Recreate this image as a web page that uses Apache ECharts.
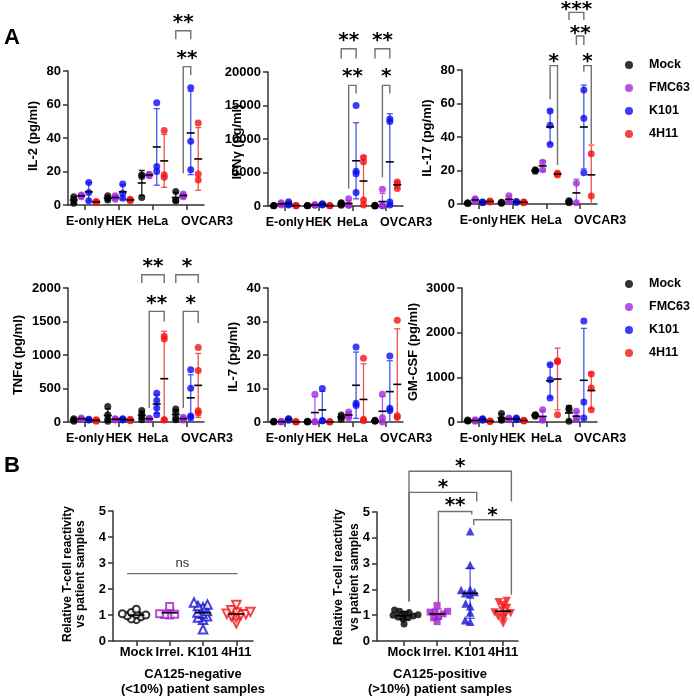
<!DOCTYPE html>
<html><head><meta charset="utf-8">
<script src="https://cdn.jsdelivr.net/npm/echarts@6/dist/echarts.min.js"></script>
<style>html,body{margin:0;padding:0;background:#fff}#c{width:694px;height:696px}</style>
</head><body><div id="c"></div><script>
// ---------- DATA ----------
const cats = ['E-only', 'HEK', 'HeLa', 'OVCAR3'];
const groups = ['Mock', 'FMC63', 'K101', '4H11'];
// replicate values per category [E-only, HEK, HeLa, OVCAR3]
const il2Mock  = [[1, 3, 5], [3, 4, 5.5], [4.5, 17, 18], [2.5, 3, 8]];
const il2FMC63 = [[5, 5.5, 6], [3.5, 4.5, 5.5], [17.5, 18, 18.3], [5, 5.5, 6.5]];
const il2K101  = [[2.5, 7.5, 13.5], [4, 7, 12.5], [20, 23, 61], [21, 38, 70]];
const il2H11   = [[1.5, 2, 2], [2.5, 3, 3.5], [16.5, 18, 44.5], [15, 18.5, 49]];

const ifnMock  = [[20, 50, 80], [20, 40, 60], [100, 250, 400, 500], [0, 50, 80, 100]];
const ifnFMC63 = [[150, 300, 500], [100, 150, 200], [100, 150, 150, 1100], [50, 50, 50, 2500]];
const ifnK101  = [[150, 300, 650], [150, 250, 350], [2000, 4800, 5200, 15000], [150, 600, 12600, 13000]];
const ifnH11   = [[30, 50, 80], [30, 50, 80], [150, 900, 6600, 7250], [2600, 3300, 3600]];

const il17Mock  = [[0.3, 0.5, 0.8], [0.5, 0.8, 1], [19.5, 20, 20.5], [0.8, 1.5, 2]];
const il17FMC63 = [[1.5, 2.5, 3.2], [1.4, 2, 5], [20.5, 25], [0.8, 12.4]];
const il17K101  = [[0.8, 1, 1.2], [1, 1.2, 1.5], [35.5, 47, 55.5], [18.7, 51.2, 68]];
const il17H11   = [[1.2, 1.5, 1.8], [0.8, 1, 1.2], [17.3, 18, 18.3], [4.8, 30]];

const tnfMock  = [[10, 30, 50], [10, 40, 110, 230], [35, 75, 120, 170], [35, 60, 150, 195]];
const tnfFMC63 = [[40, 50, 60], [30, 40, 50], [40, 50, 55], [30, 50, 70]];
const tnfK101  = [[30, 35, 40], [30, 40, 50], [110, 210, 320, 430], [70, 90, 505, 780]];
const tnfH11   = [[10, 25, 35], [20, 30, 40], [30, 35, 1240, 1280], [134, 169, 770, 1113]];

const il7Mock  = [[0, 0.1, 0.2], [0, 0.1, 0.2], [0.8, 1.5, 2.1], [0.2, 0.4, 0.5]];
const il7FMC63 = [[0, 0.1, 0.2], [0.05, 0.1, 8.3], [1.3, 2, 3], [0, 1.3, 8.3]];
const il7K101  = [[0.5, 0.9, 1], [0.4, 0.4, 10], [4.9, 5.6, 22.4], [3.4, 4.1, 19.7]];
const il7H11   = [[0, 0.1, 0.1], [0, 0.05, 0.1], [0.4, 0.8, 19], [1.4, 1.9, 30.4]];

const gmMock  = [[20, 30, 45], [40, 60, 190], [130, 150, 165], [15, 276, 313]];
const gmFMC63 = [[15, 35, 50], [50, 70, 90], [40, 60, 275], [60, 90, 240]];
const gmK101  = [[40, 60, 75], [50, 70, 90], [537, 948, 1284], [90, 450, 2260]];
const gmH11   = [[10, 15, 20], [25, 35, 40], [165, 1350, 1370], [276, 761, 1075]];

// significance brackets: [category, group1, group2, bracket level, leg1 end, leg2 end, label level, label]
const il2Brackets = [[3, 0, 2, 104, 99, 99, 111, '**'], [3, 1, 2, 82.6, 19, 77.6, 89.6, '**']];
const ifnBrackets = [[2, 0, 2, 23480, 22000, 22000, 25200, '**'], [2, 1, 2, 18000, 2600, 16800, 19850, '**'],
                     [3, 0, 2, 23480, 22000, 22000, 25200, '**'], [3, 1, 2, 18000, 4300, 16800, 19850, '*']];
const il17Brackets = [[2, 2, 3, 82.6, 62.5, 23.3, 87, '*'], [3, 2, 3, 82.6, 79, 35.8, 87, '*'],
                      [3, 1, 2, 100.3, 94.9, 94.9, 104, '**'], [3, 0, 2, 114.4, 109.9, 109.9, 118.4, '***']];
const tnfBrackets = [[2, 0, 3, 2198, 2075, 2075, 2373, '**'], [2, 1, 3, 1651, 209, 1500, 1825, '**'],
                     [3, 0, 3, 2198, 2075, 2075, 2373, '*'], [3, 1, 3, 1651, 209, 1478, 1825, '*']];

// Panel B
const bGroups = ['Mock', 'Irrel.', 'K101', '4H11'];
const negMock  = [0.82, 0.85, 0.93, 0.97, 1.0, 1.02, 1.05, 1.1, 1.22];
const negIrrel = [1.0, 1.02, 1.03, 1.05, 1.33];
const negK101  = [0.45, 0.82, 0.9, 0.95, 1.05, 1.1, 1.15, 1.3, 1.35, 1.4, 1.48];
const negH11   = [0.68, 0.9, 0.95, 1.0, 1.03, 1.05, 1.1, 1.12, 1.18, 1.38];
const posMock  = [0.66, 0.85, 0.9, 0.93, 0.97, 1.0, 1.02, 1.05, 1.1, 1.15, 1.2];
const posIrrel = [0.75, 0.9, 0.95, 1.05, 1.1, 1.12, 1.15, 1.38];
const posK101  = [0.75, 0.8, 1.1, 1.35, 1.45, 1.8, 1.85, 1.9, 1.98, 2.0, 2.95, 4.25];
const posH11   = [0.68, 0.88, 0.95, 1.05, 1.08, 1.1, 1.2, 1.28, 1.4, 1.5, 1.55];
// [x1, x2, bracket level, leg1 end, leg2 end, label level, label]
const negBrackets = [[-0.28, 3.04, 2.59, null, null, 2.98, 'ns']];
const posBrackets = [[0.15, 3.25, 6.58, 1.53, 5.41, 6.92, '*'], [0.15, 2.2, 5.76, 1.53, 5.41, 6.1, '*'],
                     [1.04, 2.05, 5.02, 1.49, 4.9, 5.38, '**'], [2.11, 3.25, 4.7, 4.5, 1.79, 5.0, '*']];

// ---------- STYLE / LAYOUT ----------
const FONT = '"Liberation Sans", Arial, Helvetica, sans-serif';
const COLORS = ['#000000', '#A22BE0', '#0B0BF2', '#F21414'];
const BAR_COLORS = ['#222222', '#B45CE6', '#4A55EE', '#F05050'];
const B_COLORS = ['#000000', '#A020C8', '#1414D2', '#F01414'];
const OFF = [-0.33, -0.11, 0.11, 0.33];
const AXC = '#333333';
const STAR_FONT = 'bold 20px "DejaVu Sans"';

function stats(a) {
  const m = a.reduce((s, v) => s + v, 0) / a.length;
  const sd = a.length > 1 ? Math.sqrt(a.reduce((s, v) => s + (v - m) * (v - m), 0) / (a.length - 1)) : 0;
  return [m, sd];
}
function barRender(cap, colors) {
  return function (params, api) {
    const x = api.value(0), lo = api.value(2), hi = api.value(3), g = api.value(4);
    const pT = api.coord([x, hi]), pB = api.coord([x, Math.max(lo, 0)]);
    const st = { stroke: colors[g], lineWidth: 1.3 };
    const ch = [{ type: 'line', shape: { x1: pT[0], y1: pT[1], x2: pB[0], y2: pB[1] }, style: st },
                { type: 'line', shape: { x1: pT[0] - cap, y1: pT[1], x2: pT[0] + cap, y2: pT[1] }, style: st }];
    if (lo > 0) ch.push({ type: 'line', shape: { x1: pB[0] - cap, y1: pB[1], x2: pB[0] + cap, y2: pB[1] }, style: st });
    return { type: 'group', children: ch };
  };
}
function meanRender(w) {
  return function (params, api) {
    const p = api.coord([api.value(0), api.value(1)]);
    return { type: 'line', shape: { x1: p[0] - w, y1: p[1], x2: p[0] + w, y2: p[1] }, style: { stroke: '#000', lineWidth: 1.6 } };
  };
}
function bracketShape(api, x1, x2, y, l1, l2, ty, label) {
  const pa = api.coord([x1, y]), pb = api.coord([x2, y]);
  const pts = (l1 === null) ? [pa, pb] : [api.coord([x1, l1]), pa, pb, api.coord([x2, l2])];
  const pt = api.coord([(x1 + x2) / 2, ty]);
  const isNs = label === 'ns';
  return { type: 'group', children: [
    { type: 'polyline', shape: { points: pts }, style: { stroke: '#707070', lineWidth: 1.4, fill: null } },
    { type: 'text', x: pt[0], y: pt[1] + (isNs ? 0 : 4),
      style: { text: label, fill: isNs ? '#333' : '#000', font: isNs ? '13px ' + FONT : STAR_FONT, align: 'center', verticalAlign: 'middle' } }
  ] };
}

const panelsA = [
  { name: 'IL-2 (pg/ml)', left: 68, top: 71, width: 136, height: 134, max: 80, step: 20, sets: [il2Mock, il2FMC63, il2K101, il2H11], br: il2Brackets, nx: 33, ny: 136 },
  { name: 'IFNγ (pg/ml)', left: 268, top: 72, width: 135, height: 134, max: 20000, step: 5000, sets: [ifnMock, ifnFMC63, ifnK101, ifnH11], br: ifnBrackets, nx: 237, ny: 142 },
  { name: 'IL-17 (pg/ml)', left: 462, top: 70, width: 135, height: 134, max: 80, step: 20, sets: [il17Mock, il17FMC63, il17K101, il17H11], br: il17Brackets, nx: 427, ny: 138 },
  { name: 'TNFα (pg/ml)', left: 68, top: 288, width: 136, height: 134, max: 2000, step: 500, sets: [tnfMock, tnfFMC63, tnfK101, tnfH11], br: tnfBrackets, nx: 18, ny: 355 },
  { name: 'IL-7 (pg/ml)', left: 268, top: 288, width: 135, height: 134, max: 40, step: 10, sets: [il7Mock, il7FMC63, il7K101, il7H11], br: [], nx: 233, ny: 357 },
  { name: 'GM-CSF (pg/ml)', left: 462, top: 288, width: 135, height: 134, max: 3000, step: 1000, sets: [gmMock, gmFMC63, gmK101, gmH11], br: [], nx: 413, ny: 352 }
];
const panelsB = [
  { left: 113, top: 511, width: 140, height: 130, xmin: -0.7, xmax: 3.5, sets: [negMock, negIrrel, negK101, negH11], br: negBrackets, hollow: true,
    nx: 74.5, ny: 574, lh: 13, sub: ['CA125-negative', '(<10%) patient samples'], sx: 193 },
  { left: 377, top: 512, width: 141, height: 129, xmin: -0.82, xmax: 3.45, sets: [posMock, posIrrel, posK101, posH11], br: posBrackets, hollow: false,
    nx: 346.5, ny: 577, lh: 16, sub: ['CA125-positive', '(>10%) patient samples'], sx: 440 }
];

const option = {
  animation: false,
  textStyle: { fontFamily: FONT },
  grid: [], xAxis: [], yAxis: [], series: [], graphic: [],
  legend: [0, 1].map(k => ({
    data: groups, orient: 'vertical', left: 620, top: k === 0 ? 52 : 271,
    itemWidth: 30, itemHeight: 8, itemGap: 7, icon: 'circle', selectedMode: false,
    textStyle: { fontWeight: 'bold', fontSize: 12.5, color: '#000', lineHeight: 16, fontFamily: FONT }
  }))
};

function xAxisCfg(i, min, max, names, margin, lastShift, fs) {
  return { gridIndex: i, type: 'value', min: min, max: max,
    axisLine: { show: true, onZero: false, lineStyle: { color: AXC, width: 1.5 } },
    axisTick: { show: true, customValues: [0, 1, 2, 3], length: 5, lineStyle: { color: AXC, width: 1.5 } },
    axisLabel: { show: true, customValues: [0, 1, 2, 3], hideOverlap: false, showMinLabel: true, showMaxLabel: true,
      formatter: v => { const k = Math.round(v); return (lastShift && k === 3) ? '{s|' + names[k] + '}' : (names[k] || ''); },
      rich: { s: { padding: [0, 0, 0, lastShift || 0], fontWeight: 'bold', fontSize: fs, color: '#000', fontFamily: FONT } },
      fontWeight: 'bold', fontSize: fs, color: '#000', margin: margin },
    splitLine: { show: false } };
}
function yAxisCfg(i, max, step) {
  return { gridIndex: i, type: 'value', min: 0, max: max, interval: step,
    axisLine: { show: true, onZero: false, lineStyle: { color: AXC, width: 1.5 } },
    axisTick: { show: true, length: 5, lineStyle: { color: AXC, width: 1.5 } },
    axisLabel: { formatter: v => String(v), fontWeight: 'bold', fontSize: 13, color: '#000', margin: 7 },
    splitLine: { show: false } };
}

panelsA.forEach((p, i) => {
  option.grid.push({ left: p.left, top: p.top, width: p.width, height: p.height });
  option.xAxis.push(xAxisCfg(i, -0.5, 3.5, cats, 10, 40, 12.5));
  option.yAxis.push(yAxisCfg(i, p.max, p.step));
  const barData = [];
  groups.forEach((g, gi) => {
    const pts = [];
    p.sets[gi].forEach((vals, ci) => {
      vals.forEach(v => pts.push([ci + OFF[gi], v]));
      const [m, sd] = stats(vals);
      barData.push([ci + OFF[gi], m, m - sd, m + sd, gi]);
    });
    option.series.push({ type: 'scatter', name: g, xAxisIndex: i, yAxisIndex: i, data: pts, symbolSize: 7,
      itemStyle: { color: COLORS[gi] }, z: 3, silent: true });
  });
  option.series.push({ type: 'custom', name: 'sd' + i, xAxisIndex: i, yAxisIndex: i, data: barData, renderItem: barRender(3, BAR_COLORS), z: 2, silent: true });
  option.series.push({ type: 'custom', name: 'mean' + i, xAxisIndex: i, yAxisIndex: i, data: barData, renderItem: meanRender(4), z: 4, silent: true });
  if (p.br.length) {
    const list = p.br;
    option.series.push({ type: 'custom', name: 'sig' + i, xAxisIndex: i, yAxisIndex: i, data: list.map(b => [b[0], b[3]]), z: 5, silent: true,
      renderItem: (params, api) => { const b = list[params.dataIndex]; return bracketShape(api, b[0] + OFF[b[1]], b[0] + OFF[b[2]], b[3], b[4], b[5], b[6], b[7]); } });
  }
  option.graphic.push({ type: 'text', x: p.nx, y: p.ny, rotation: Math.PI / 2,
    style: { text: p.name, font: 'bold 13px ' + FONT, fill: '#000', align: 'center', verticalAlign: 'middle' } });
});

function swarm(values, center, pxX, pxY, d) {
  const sorted = values.slice().sort((a, b) => a - b);
  const placed = [], out = [];
  sorted.forEach(v => {
    const y = v * pxY;
    let dx = 0;
    for (let k = 0; k < 400; k++) {
      const cand = (k % 2 === 0 ? 1 : -1) * Math.ceil(k / 2) * 0.5;
      if (placed.every(p => Math.hypot(cand - p[0], y - p[1]) >= d)) { dx = cand; break; }
    }
    placed.push([dx, y]);
    out.push([center + dx / pxX, v]);
  });
  return out;
}

const bSymbols = ['circle', 'rect', 'triangle', 'triangle'];
const bSizes = [7, 7, 8.5, 8.5];
panelsB.forEach((p, j) => {
  const i = panelsA.length + j;
  option.grid.push({ left: p.left, top: p.top, width: p.width, height: p.height });
  option.xAxis.push(xAxisCfg(i, p.xmin, p.xmax, bGroups, 5, 0, 13));
  option.yAxis.push(yAxisCfg(i, 5, 1));
  const pxX = p.width / (p.xmax - p.xmin), pxY = p.height / 5;
  const barData = [];
  bGroups.forEach((g, gi) => {
    const pts = swarm(p.sets[gi], gi, pxX, pxY, 5);
    const [m, sd] = stats(p.sets[gi]);
    barData.push([gi, m, m - sd, m + sd, gi]);
    option.series.push({ type: 'scatter', name: g, xAxisIndex: i, yAxisIndex: i, data: pts,
      symbol: p.hollow ? 'empty' + bSymbols[gi].charAt(0).toUpperCase() + bSymbols[gi].slice(1) : bSymbols[gi],
      symbolRotate: gi === 3 ? 180 : 0, symbolSize: bSizes[gi],
      itemStyle: p.hollow ? { color: B_COLORS[gi], borderColor: B_COLORS[gi], borderWidth: 1.3 } : { color: B_COLORS[gi] },
      z: 3, silent: true });
  });
  option.series.push({ type: 'custom', name: 'bsd' + j, xAxisIndex: i, yAxisIndex: i, data: barData, renderItem: barRender(5, ['#222', '#B060D8', '#5A5AE0', '#F05A5A']), z: 2, silent: true });
  option.series.push({ type: 'custom', name: 'bmean' + j, xAxisIndex: i, yAxisIndex: i, data: barData, renderItem: meanRender(8), z: 4, silent: true });
  const list = p.br;
  option.series.push({ type: 'custom', name: 'bsig' + j, xAxisIndex: i, yAxisIndex: i, data: list.map(b => [b[0], b[2]]), z: 5, silent: true,
    renderItem: (params, api) => { const b = list[params.dataIndex]; return bracketShape(api, b[0], b[1], b[2], b[3], b[4], b[5], b[6]); } });
  option.graphic.push({ type: 'text', x: p.nx, y: p.ny, rotation: Math.PI / 2,
    style: { text: 'Relative T-cell reactivity\nvs patient samples', font: 'bold 12px ' + FONT, lineHeight: p.lh, fill: '#000', align: 'center', verticalAlign: 'middle' } });
  option.graphic.push({ type: 'text', x: p.sx, y: 682, style: { text: p.sub.join('\n'), font: 'bold 13px ' + FONT, lineHeight: 15, fill: '#000', align: 'center', verticalAlign: 'middle' } });
});

option.graphic.push({ type: 'text', x: 4, y: 38, style: { text: 'A', font: 'bold 22px ' + FONT, fill: '#000', align: 'left', verticalAlign: 'middle' } });
option.graphic.push({ type: 'text', x: 4, y: 466, style: { text: 'B', font: 'bold 22px ' + FONT, fill: '#000', align: 'left', verticalAlign: 'middle' } });

const chart = echarts.init(document.getElementById('c'), null, { renderer: 'canvas' });
chart.setOption(option);
</script></body></html>
